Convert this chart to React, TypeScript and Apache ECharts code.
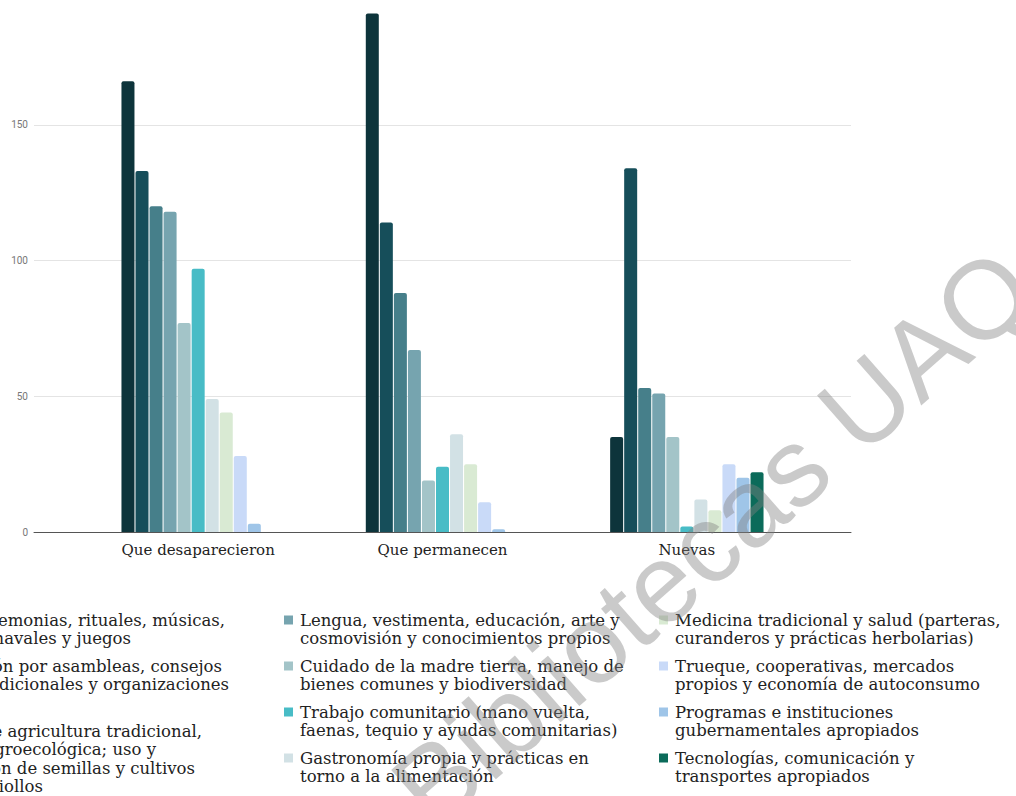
import React, { useEffect, useRef } from "react";
import * as echarts from "echarts";

const categories = ["Que desaparecieron", "Que permanecen", "Nuevas"];

const seriesNames = [
  "Fiestas, ceremonias, rituales, músicas, danzas, carnavales y juegos",
  "Organización por asambleas, consejos, cargos tradicionales y organizaciones",
  "Sistemas de agricultura tradicional, milpa agroecológica; uso y conservación de semillas y cultivos nativos y criollos",
  "Lengua, vestimenta, educación, arte y cosmovisión y conocimientos propios",
  "Cuidado de la madre tierra, manejo de bienes comunes y biodiversidad",
  "Trabajo comunitario (mano vuelta, faenas, tequio y ayudas comunitarias)",
  "Gastronomía propia y prácticas en torno a la alimentación",
  "Medicina tradicional y salud (parteras, curanderos y prácticas herbolarias)",
  "Trueque, cooperativas, mercados propios y economía de autoconsumo",
  "Programas e instituciones gubernamentales apropiados",
  "Tecnologías, comunicación y transportes apropiados",
];

const legendLines = [
  ["Fiestas, ceremonias, rituales, músicas,", "danzas, carnavales y juegos"],
  ["Organización por asambleas, consejos", "cargos tradicionales y organizaciones"],
  ["Sistemas de agricultura tradicional,", "milpa agroecológica; uso y", "conservación de semillas y cultivos", "nativos y criollos"],
  ["Lengua, vestimenta, educación, arte y", "cosmovisión y conocimientos propios"],
  ["Cuidado de la madre tierra, manejo de", "bienes comunes y biodiversidad"],
  ["Trabajo comunitario (mano vuelta,", "faenas, tequio y ayudas comunitarias)"],
  ["Gastronomía propia y prácticas en", "torno a la alimentación"],
  ["Medicina tradicional y salud (parteras,", "curanderos y prácticas herbolarias)"],
  ["Trueque, cooperativas, mercados", "propios y economía de autoconsumo"],
  ["Programas e instituciones", "gubernamentales apropiados"],
  ["Tecnologías, comunicación y", "transportes apropiados"],
];

const queDesaparecieron = [166, 133, 120, 118, 77, 97, 49, 44, 28, 3, 0];
const quePermanecen = [191, 114, 88, 67, 19, 24, 36, 25, 11, 1, 0];
const nuevas = [35, 134, 53, 51, 35, 2, 12, 8, 25, 20, 22];

const colors = [
  "#0d343b", "#164e5a", "#467f8a", "#76a4af", "#a3c4c8", "#48bcc6",
  "#d2e1e5", "#d9ead3", "#c9daf8", "#9fc5e8", "#0b6b5a",
];

const yMax = 200;
const yInterval = 50;

const SERIF = "'DejaVu Serif', serif";

export default function App() {
  const ref = useRef<HTMLDivElement>(null);

  useEffect(() => {
    if (!ref.current) return;
    const chart = echarts.init(ref.current, undefined, { renderer: "svg" });

    const series = seriesNames.map((name, i) => ({
      name,
      type: "bar",
      xAxisIndex: 1,
      yAxisIndex: 1,
      barWidth: 13,
      barGap: "8%",
      itemStyle: { color: colors[i], borderRadius: [2, 2, 0, 0] },
      data: [queDesaparecieron[i], quePermanecen[i], nuevas[i]],
    }));

    const graphics: any[] = [];
    const lineH = 18.5;
    // column 1: clipped on the left, lines right-aligned at their visible ends
    const col1Tops = [620, 666, 731];
    const col1Ends = [[225, 131], [222, 229], [202, 156, 195, 43]];
    [0, 1, 2].forEach((idx, k) => {
      legendLines[idx].forEach((ln, j) => {
        graphics.push({
          type: "text",
          x: col1Ends[k][j],
          y: col1Tops[k] + j * lineH,
          style: { text: ln, font: `16.5px ${SERIF}`, fill: "#222", align: "right", verticalAlign: "middle" },
        });
      });
    });
    const colX = [300, 675];
    const colTops = [620, 666, 712, 758];
    [[3, 4, 5, 6], [7, 8, 9, 10]].forEach((items, c) => {
      items.forEach((idx, r) => {
        graphics.push({
          type: "rect",
          shape: { x: colX[c] - 16, y: colTops[r] - 4.5, width: 9, height: 9 },
          style: { fill: colors[idx] },
        });
        legendLines[idx].forEach((ln, j) => {
          graphics.push({
            type: "text",
            x: colX[c],
            y: colTops[r] + j * lineH,
            style: { text: ln, font: `16.5px ${SERIF}`, fill: "#222", align: "left", verticalAlign: "middle" },
          });
        });
      });
    });
    // watermark
    graphics.push({
      type: "text",
      x: 713,
      y: 538,
      rotation: (41.3 * Math.PI) / 180,
      z: 100,
      style: {
        text: "Bibliotecas UAQ",
        font: "111px 'Liberation Sans', Arial, sans-serif",
        fill: "rgba(128,128,128,0.42)",
        align: "center",
        verticalAlign: "middle",
      },
    });

    chart.setOption({
      animation: false,
      backgroundColor: "#ffffff",
      grid: [
        { left: 34, right: 165, top: -11, bottom: 264, outerBoundsMode: "none", containLabel: false },
        { left: 76, right: 207, top: -11, bottom: 264, outerBoundsMode: "none", containLabel: false },
      ],
      xAxis: [
        {
          type: "value",
          gridIndex: 0,
          min: 0,
          max: 1,
          axisLine: { show: true, onZero: false, lineStyle: { color: "#555", width: 1 } },
          axisTick: { show: false },
          axisLabel: { show: false },
          splitLine: { show: false },
        },
        {
          type: "category",
          gridIndex: 1,
          data: categories,
          axisLine: { show: false },
          axisTick: { show: false },
          axisLabel: { color: "#222", fontFamily: SERIF, fontSize: 15, margin: 10 },
        },
      ],
      yAxis: [
        {
          type: "value",
          gridIndex: 0,
          min: 0,
          max: yMax,
          interval: yInterval,
          axisLine: { show: false },
          axisTick: { show: false },
          axisLabel: { color: "#777", fontFamily: "Roboto, sans-serif", fontSize: 10, margin: 6, showMaxLabel: false },
          splitLine: { lineStyle: { color: "#e4e4e4", width: 1 } },
        },
        {
          type: "value",
          gridIndex: 1,
          min: 0,
          max: yMax,
          interval: yInterval,
          show: false,
          splitLine: { show: false },
        },
      ],
      series,
      graphic: graphics,
    });

    return () => chart.dispose();
  }, []);

  return (
    <div
      ref={ref}
      style={{ position: "absolute", left: 0, top: 0, width: 1016, height: 796, background: "#fff" }}
    />
  );
}
